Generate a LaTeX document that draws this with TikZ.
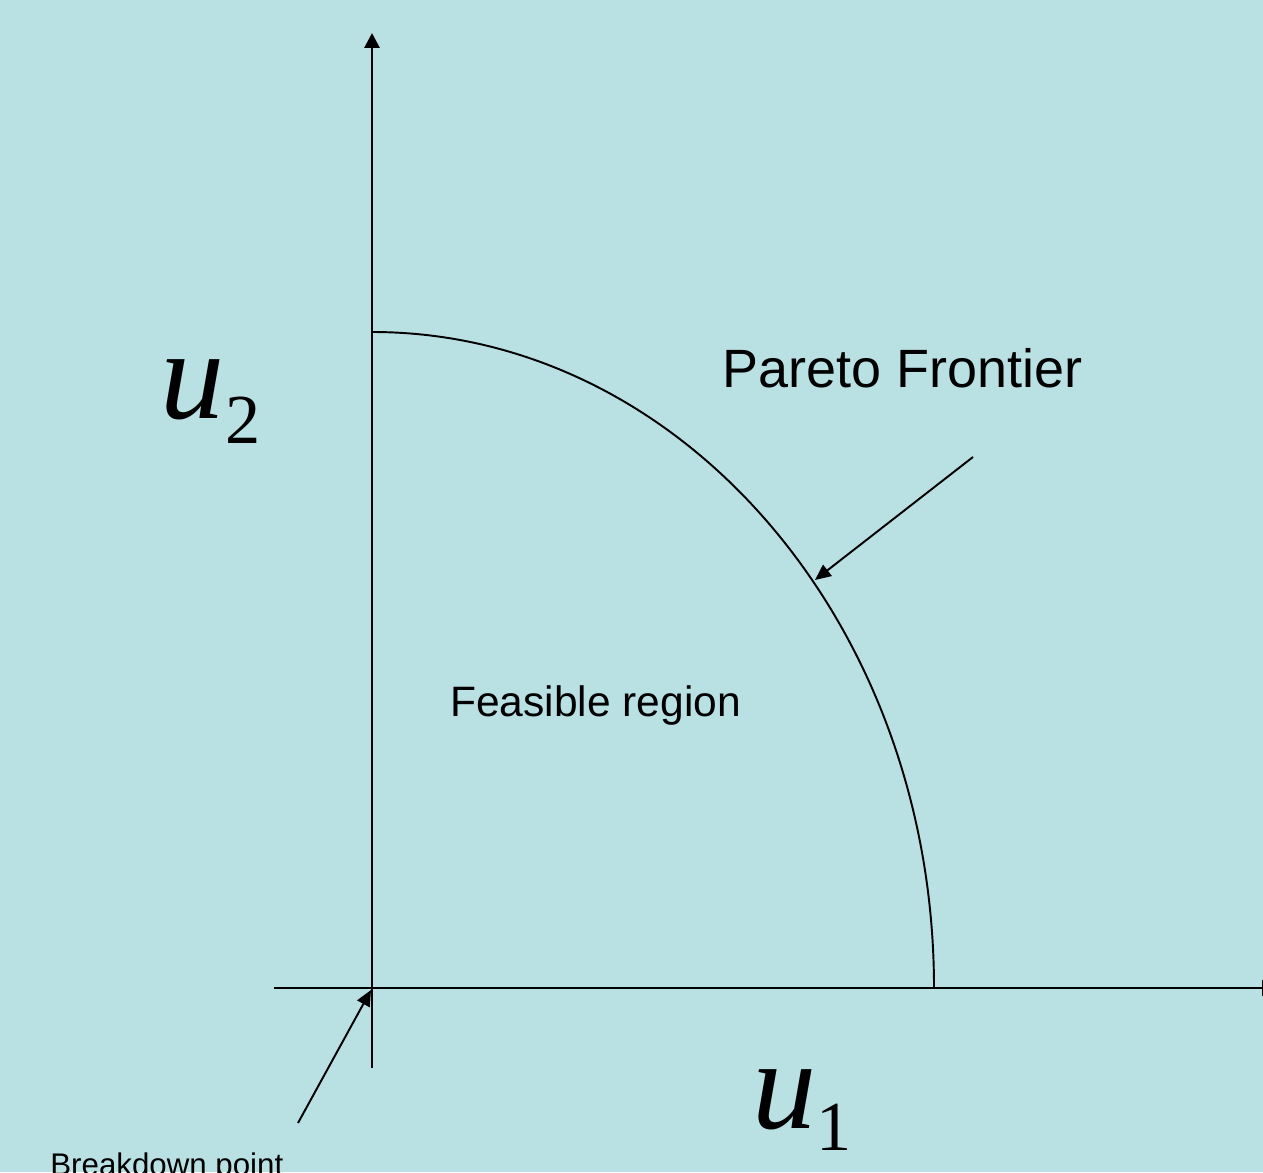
\documentclass[tikz,border=0pt]{standalone}
\usepackage{fontspec}
\setmainfont{Liberation Sans}
\newfontfamily\mathserif{Liberation Serif}
\usetikzlibrary{arrows.meta}
\definecolor{bgblue}{RGB}{185,224,227}
\begin{document}
\begin{tikzpicture}[x=0.02cm, y=-0.02cm, every node/.style={inner sep=0pt, anchor=base west},
    axis/.style={line width=1.6pt, -{Triangle[length=8.5pt, width=8.5pt]}},
    pointer/.style={line width=1.1pt, -{Triangle[length=9pt, width=8pt]}},
    bigu/.style={font=\mathserif\itshape\fontsize{73}{73}\selectfont},
    subidx/.style={font=\mathserif\fontsize{40}{40}\selectfont}]
        \clip (0,0) rectangle (1263,1172);
        \fill[bgblue] (0,0) rectangle (1263,1172);

        \coordinate (o) at (372,988);
        \coordinate (ybot) at (372,1068);
        \coordinate (ytop) at (372,33);
        \coordinate (xleft) at (274,988);
        \coordinate (xright) at (1277,988);
        \coordinate (pfpt) at (815,580);
        \coordinate (pftail) at (973,457);
        \coordinate (bdtail) at (298,1123);
        \coordinate (bdpt) at (371,990);

        \draw[axis] (ybot) -- (ytop);
        \draw[axis] (xleft) -- (xright);
        \draw[line width=1.1pt] (372,332) arc[start angle=-90, end angle=0, x radius=562, y radius=656];

        \node (u2) [bigu] at (160,418) {u};
        \node (sub2) [subidx] at (225,443) {2};
        \node (u1) [bigu] at (752,1128) {u};
        \node (sub1) [subidx] at (816,1150) {1};

        \node (pareto) [font=\fontsize{30.7}{33}\selectfont] at (722,387) {Pareto Frontier};
        \node (feas) [font=\fontsize{24.2}{28}\selectfont] at (450,716) {Feasible region};
        \node (bd) [font=\fontsize{17.8}{20}\selectfont] at (50,1175) {Breakdown point};

        \draw[pointer] (pftail) -- (pfpt);
        \draw[pointer] (bdtail) -- (bdpt);
    \end{tikzpicture}
\end{document}
